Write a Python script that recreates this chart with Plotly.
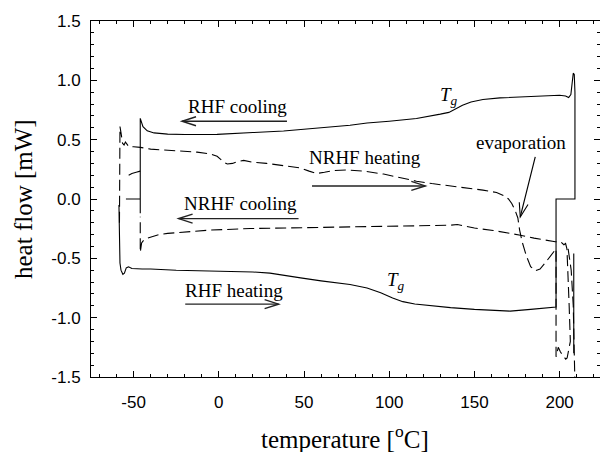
import math
import plotly.graph_objects as go

# ---------------- data ----------------
# RHF heating run (solid, lower branch), temperature [°C] / heat flow [mW]
rhf_heat_T = [-58.6, -58.5, -58.3, -58.0, -57.4, -56.3, -55.4, -54.3, -53.0, -51.0, -45, -40, -25, -11,
              0, 11, 20, 30, 38, 48, 60, 77, 87, 95, 102, 108, 115, 125, 136, 150, 171, 183, 197.9]
rhf_heat_hf = [-0.05, -0.30, -0.45, -0.54, -0.60, -0.635, -0.625, -0.58, -0.572, -0.586, -0.59, -0.59, -0.60, -0.605,
               -0.605, -0.61, -0.615, -0.625, -0.64, -0.665, -0.69, -0.72, -0.75, -0.79, -0.835, -0.865, -0.885, -0.90,
               -0.915, -0.93, -0.945, -0.93, -0.91]
# isothermal segment at the top temperature (solid)
rhf_iso_hot_T = [197.9, 197.9, 209.0, 209.0]
rhf_iso_hot_hf = [-0.91, 0.0, 0.0, 0.90]
# RHF cooling run (solid, upper branch)
rhf_cool_T = [209.0, 208.6, 208.0, 207.4, 206.6, 205.3, 203.5, 200, 190, 175, 165, 155, 148, 143, 140, 135, 130,
              116, 100, 87, 77, 60, 48, 38, 20, 8.5, -1, -20, -30, -38, -42, -44.5, -46.1]
rhf_cool_hf = [0.92, 1.05, 1.06, 1.00, 0.88, 0.855, 0.868, 0.874, 0.868, 0.86, 0.852, 0.838, 0.818, 0.79, 0.765, 0.73,
               0.715, 0.678, 0.655, 0.64, 0.621, 0.60, 0.585, 0.573, 0.56, 0.549, 0.545, 0.543, 0.547, 0.557, 0.575,
               0.61, 0.68]
# isothermal segment at the low temperature (solid)
rhf_iso_cold_T = [-46.1, -46.1, -46.1, -54.5]
rhf_iso_cold_hf = [0.68, -0.12, 0.0, 0.0]
rhf_arc_T = [-52.9, -51.0, -48.5, -46.1]
rhf_arc_hf = [0.20, 0.215, 0.225, 0.235]
rhf_end_T = [208.3, 208.3]
rhf_end_hf = [-0.46, -1.30]

# NRHF heating run (dashed)
nrhf_heat_T = [-58.3, -58.3, -58.0, -57.4, -56.5, -55.6, -54.8, -53.8, -52.8, -50, -46, -40, -30, -20, -12.8, -5,
               -1, 3, 5, 8, 11, 14.6, 20, 28, 40, 47.8, 53, 57.6, 62, 67.4, 75, 85, 96.7, 105, 116, 125, 134, 145,
               155, 163, 167, 170, 172, 174, 175.5, 176.5, 178, 180.5, 183, 185.7, 188.5, 192, 195, 197.9, 197.9,
               199.2, 200.5, 202.3, 203.6, 204.4, 205.5, 206.3, 205.6, 204.8, 204.3]
nrhf_heat_hf = [-0.20, 0.58, 0.61, 0.56, 0.47, 0.455, 0.48, 0.46, 0.44, 0.44, 0.435, 0.42, 0.41, 0.40, 0.395, 0.38,
                0.36, 0.31, 0.295, 0.30, 0.315, 0.325, 0.31, 0.30, 0.275, 0.262, 0.235, 0.215, 0.225, 0.24, 0.245,
                0.235, 0.21, 0.185, 0.15, 0.13, 0.115, 0.095, 0.075, 0.055, 0.03, 0.0, -0.04, -0.10, -0.16, -0.26,
                -0.36, -0.48, -0.57, -0.605, -0.59, -0.53, -0.47, -0.42, -1.33,
                -1.25, -1.29, -1.32, -1.35, -1.34, -1.25, -1.20, -0.90, -0.60, -0.42]
# NRHF cooling run (dashed)
nrhf_cool_T = [204.3, 203.5, 202.5, 201.5, 200.5, 197.5, 190, 185, 177, 170, 161, 150, 143, 140, 136, 120, 97,
               57.6, 18.5, -5, -20.7, -30, -35, -39.2, -42, -44.1, -45.3, -46.1, -46.1]
nrhf_cool_hf = [-0.42, -0.375, -0.385, -0.37, -0.36, -0.36, -0.345, -0.33, -0.305, -0.285, -0.265, -0.245, -0.228,
                -0.215, -0.221, -0.225, -0.23, -0.235, -0.249, -0.262, -0.278, -0.29, -0.30, -0.32, -0.33, -0.347,
                -0.37, -0.45, -0.15]
nrhf_tail_T = [205.0, 206.8, 208.0, 208.6, 208.9]
nrhf_tail_hf = [-0.42, -0.60, -0.90, -1.20, -1.50]

x_tick_vals = [-50, 0, 50, 100, 150, 200]
x_tick_text = ["-50", "0", "50", "100", "150", "200"]
y_tick_vals = [-1.5, -1.0, -0.5, 0.0, 0.5, 1.0, 1.5]
y_tick_text = ["-1.5", "-1.0", "-0.5", "0.0", "0.5", "1.0", "1.5"]

# ---------------- layout geometry ----------------
W, H = 600, 452
ML, MR, MT, MB = 91, 0, 21, 75
x_range = [-75, 223.7]
y_range = [-1.5, 1.5]
pw, ph = W - ML - MR, H - MT - MB
sx = pw / (x_range[1] - x_range[0])
sy = ph / (y_range[1] - y_range[0])

SERIF = "Liberation Serif, Times New Roman, serif"
SANS = "Liberation Sans, Arial, sans-serif"

fig = go.Figure()

solid = dict(color="black", width=1.1)
dashed = dict(color="black", width=1.1, dash="11px,5px")


def add(xs, ys, line):
    fig.add_trace(go.Scatter(x=xs, y=ys, mode="lines", line=line, showlegend=False, hoverinfo="skip"))


add(rhf_heat_T + rhf_iso_hot_T + rhf_cool_T + rhf_iso_cold_T,
    rhf_heat_hf + rhf_iso_hot_hf + rhf_cool_hf + rhf_iso_cold_hf, solid)
add(rhf_arc_T, rhf_arc_hf, solid)
add(rhf_end_T, rhf_end_hf, solid)
add(nrhf_heat_T, nrhf_heat_hf, dashed)
add(nrhf_cool_T, nrhf_cool_hf, dashed)
add(nrhf_tail_T, nrhf_tail_hf, dashed)

# ---------------- arrows ----------------
def to_px(x, y):
    return (x - x_range[0]) * sx, (y - y_range[0]) * sy


def to_data(px, py):
    return px / sx + x_range[0], py / sy + y_range[0]


shapes = []


def arrow(x0, y0, x1, y1, head_len=14, half_w=4.5, color="#222", width=1.4):
    shapes.append(dict(type="line", xref="x", yref="y", x0=x0, y0=y0, x1=x1, y1=y1,
                       line=dict(color=color, width=width)))
    p0x, p0y = to_px(x0, y0)
    p1x, p1y = to_px(x1, y1)
    d = math.hypot(p1x - p0x, p1y - p0y)
    ux, uy = (p1x - p0x) / d, (p1y - p0y) / d
    nx, ny = -uy, ux
    bx, by = p1x - ux * head_len, p1y - uy * head_len
    a = to_data(bx + nx * half_w, by + ny * half_w)
    b = to_data(bx - nx * half_w, by - ny * half_w)
    shapes.append(dict(type="path", xref="x", yref="y",
                       path=f"M {a[0]},{a[1]} L {x1},{y1} L {b[0]},{b[1]}",
                       line=dict(color=color, width=width)))


arrow(40.0, 0.655, -21.6, 0.655)      # RHF cooling
arrow(54.7, 0.110, 121.2, 0.110)      # NRHF heating
arrow(46.8, -0.165, -23.6, -0.165)    # NRHF cooling
arrow(-19.7, -0.886, 35.1, -0.886)    # RHF heating
arrow(185.7, 0.354, 176.9, -0.151, width=1.1, color="black")    # evaporation

# ---------------- annotations ----------------
ann = []


def label(text, x, y, size=19):
    ann.append(dict(text=text, x=x, y=y, xref="x", yref="y", showarrow=False,
                    font=dict(family=SERIF, size=size, color="black"),
                    xanchor="center", yanchor="middle"))


label("RHF cooling", 10.7, 0.78)
label("NRHF heating", 86.0, 0.352)
label("NRHF cooling", 12.6, -0.04)
label("RHF heating", 8.7, -0.769)
label("evaporation", 177.5, 0.478)
label("<i>T</i><sub><i>g</i></sub>", 134.8, 0.87)
label("<i>T</i><sub><i>g</i></sub>", 104.2, -0.69)

ann.append(dict(text="temperature [<sup>o</sup>C]", x=(345 - ML) / pw, y=-60 / ph,
                xref="paper", yref="paper", showarrow=False,
                font=dict(family=SERIF, size=25, color="black"),
                xanchor="center", yanchor="middle"))
ann.append(dict(text="heat flow [mW]", x=(23 - ML) / pw, y=0.5, xref="paper", yref="paper",
                showarrow=False, textangle=-90,
                font=dict(family=SERIF, size=25, color="black"),
                xanchor="center", yanchor="middle"))

axis_common = dict(showline=True, linecolor="black", linewidth=1, mirror="ticks",
                   ticks="inside", ticklen=6, tickwidth=1, tickcolor="black",
                   showgrid=False, zeroline=False,
                   tickfont=dict(family=SANS, size=17, color="black"))

fig.update_layout(
    width=W, height=H,
    margin=dict(l=ML, r=MR, t=MT, b=MB, pad=0),
    paper_bgcolor="white", plot_bgcolor="white",
    xaxis=dict(range=x_range, tickmode="array", tickvals=x_tick_vals, ticktext=x_tick_text,
               ticklabelstandoff=10,
               minor=dict(ticks="inside", ticklen=3, tickcolor="black", tickmode="linear",
                          tick0=0, dtick=10, showgrid=False),
               **axis_common),
    yaxis=dict(range=y_range, tickmode="array", tickvals=y_tick_vals, ticktext=y_tick_text,
               ticklabelstandoff=6,
               minor=dict(ticks="inside", ticklen=3, tickcolor="black", tickmode="linear",
                          tick0=0, dtick=0.1, showgrid=False),
               **axis_common),
    shapes=shapes,
    annotations=ann,
)

fig.write_html("out.html", config={"displayModeBar": False, "staticPlot": True})

# remove the browser's default page margin so the figure sits at (0, 0)
with open("out.html", encoding="utf-8") as f:
    html = f.read()
html = html.replace("<body>", '<body style="margin:0;padding:0;overflow:hidden">', 1)
with open("out.html", "w", encoding="utf-8") as f:
    f.write(html)
